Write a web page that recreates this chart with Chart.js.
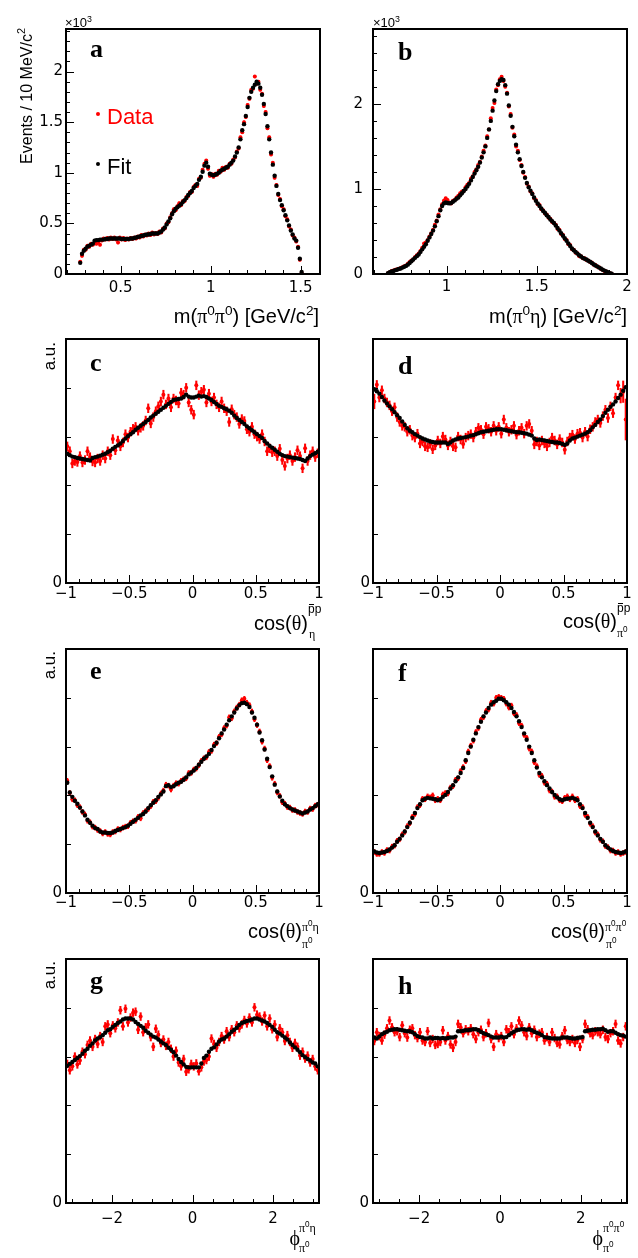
<!DOCTYPE html>
<html><head><meta charset="utf-8">
<script src="https://cdn.jsdelivr.net/npm/chart.js@4.4.1/dist/chart.umd.min.js"></script>
<style>
html,body{margin:0;padding:0;background:#fff}
body{position:relative;width:638px;height:1258px;overflow:hidden;font-family:"Liberation Sans",Arial,sans-serif;color:#000}
canvas{position:absolute}
.t{position:absolute;white-space:nowrap;line-height:1}
.sp{font-size:0.68em;position:relative;top:-0.6em}
.gk{font-family:"Liberation Serif","DejaVu Serif","Times New Roman",serif}
.ov{position:relative}
.ov::before{content:"";position:absolute;left:0.08em;right:0.08em;top:0.18em;border-top:1px solid #000}
.lt{position:absolute;white-space:nowrap;line-height:1;font-family:"Liberation Serif",serif;font-weight:bold}
.rot{position:absolute;white-space:nowrap;line-height:1;transform-origin:0 0;transform:rotate(-90deg);text-align:right}
.dot{position:absolute;border-radius:50%}
</style></head><body>
<script>
// ---------------- data ----------------
// bins: [first bin centre, bin width]
const binA = [0.275, 0.01];
const binB = [0.675, 0.01];
const binCos = [-0.99, 0.02];
const binPhi = [-Math.PI + Math.PI / 100, Math.PI / 50];

// panel a : m(pi0 pi0), units of 10^3 events
const fitA = [0.11,0.20,0.23,0.25,0.27,0.28,0.29,0.30,0.33,0.335,
 0.335,0.34,0.34,0.34,0.345,0.345,0.35,0.35,0.35,0.35,
 0.35,0.35,0.35,0.345,0.345,0.345,0.345,0.345,0.35,0.35,
 0.355,0.36,0.365,0.37,0.375,0.38,0.385,0.39,0.39,0.395,
 0.40,0.40,0.40,0.40,0.41,0.42,0.44,0.46,0.49,0.52,
 0.55,0.59,0.62,0.645,0.66,0.675,0.69,0.71,0.73,0.75,
 0.78,0.80,0.82,0.85,0.87,0.89,0.93,0.96,1.01,1.07,
 1.10,1.06,0.99,0.98,0.975,0.98,0.99,1.00,1.02,1.03,
 1.04,1.05,1.06,1.08,1.10,1.12,1.16,1.20,1.25,1.33,
 1.42,1.48,1.56,1.65,1.74,1.80,1.84,1.87,1.90,1.88,
 1.84,1.77,1.68,1.58,1.46,1.33,1.20,1.08,0.97,0.87,
 0.79,0.73,0.68,0.63,0.58,0.53,0.48,0.43,0.39,0.35,
 0.33,0.26,0.15,0.02];
const dataA = [0.12,0.18,0.24,0.24,0.28,0.27,0.30,0.29,0.31,0.30,
 0.31,0.29,0.33,0.35,0.34,0.355,0.34,0.36,0.345,0.36,
 0.34,0.31,0.36,0.34,0.355,0.335,0.35,0.34,0.355,0.345,
 0.36,0.35,0.37,0.36,0.385,0.37,0.39,0.38,0.40,0.385,
 0.41,0.39,0.405,0.395,0.42,0.41,0.45,0.45,0.50,0.51,
 0.56,0.60,0.64,0.63,0.67,0.70,0.68,0.72,0.72,0.76,
 0.77,0.81,0.81,0.86,0.88,0.87,0.94,0.95,1.03,1.09,
 1.12,1.04,0.97,0.985,0.96,0.99,0.98,1.02,1.01,1.05,
 1.03,1.06,1.05,1.09,1.09,1.13,1.15,1.21,1.24,1.35,
 1.40,1.50,1.55,1.67,1.73,1.82,1.83,1.95,1.88,1.90,
 1.82,1.78,1.66,1.60,1.44,1.35,1.18,1.10,0.95,0.88,
 0.78,0.74,0.67,0.64,0.57,0.54,0.47,0.44,0.38,0.36,
 0.32,0.27,0.14,0.01];

// panel b : m(pi0 eta)
const fitB = [0.01,0.02,0.03,0.035,0.045,0.05,0.06,0.065,0.075,0.085,
 0.095,0.11,0.13,0.15,0.17,0.19,0.21,0.23,0.26,0.29,
 0.32,0.35,0.39,0.43,0.47,0.51,0.56,0.62,0.68,0.75,
 0.80,0.83,0.84,0.835,0.83,0.835,0.85,0.865,0.885,0.90,
 0.925,0.95,0.975,1.00,1.03,1.06,1.10,1.14,1.18,1.22,
 1.26,1.31,1.37,1.43,1.50,1.60,1.70,1.80,1.92,2.04,
 2.15,2.23,2.27,2.29,2.28,2.22,2.12,1.98,1.86,1.73,
 1.62,1.52,1.43,1.35,1.27,1.20,1.13,1.07,1.02,0.98,
 0.94,0.90,0.86,0.83,0.80,0.77,0.74,0.72,0.69,0.67,
 0.64,0.62,0.60,0.57,0.54,0.51,0.48,0.45,0.42,0.39,
 0.36,0.33,0.30,0.28,0.26,0.24,0.22,0.205,0.19,0.18,
 0.17,0.155,0.145,0.13,0.115,0.10,0.09,0.075,0.065,0.05,
 0.04,0.03,0.02,0.01,0.003];
const dataB = [0.01,0.02,0.035,0.04,0.05,0.055,0.06,0.07,0.08,0.09,
 0.10,0.12,0.14,0.16,0.17,0.20,0.22,0.24,0.27,0.31,
 0.36,0.37,0.40,0.44,0.48,0.52,0.58,0.63,0.70,0.76,
 0.82,0.86,0.89,0.87,0.84,0.83,0.86,0.87,0.90,0.92,
 0.95,0.97,0.98,1.02,1.05,1.07,1.12,1.15,1.20,1.23,
 1.28,1.32,1.38,1.45,1.51,1.62,1.70,1.83,1.95,2.01,
 2.17,2.22,2.29,2.32,2.27,2.20,2.13,1.97,1.88,1.72,
 1.64,1.50,1.45,1.34,1.28,1.19,1.14,1.06,1.03,0.97,
 0.95,0.89,0.87,0.82,0.81,0.76,0.75,0.71,0.70,0.66,
 0.65,0.61,0.60,0.58,0.53,0.52,0.47,0.46,0.41,0.40,
 0.35,0.34,0.29,0.285,0.25,0.245,0.21,0.21,0.185,0.185,
 0.165,0.16,0.14,0.135,0.11,0.105,0.085,0.08,0.06,0.05,
 0.035,0.03,0.015,0.01,0.002];

// panel c : cos(theta)^{pbar p}_eta  (a.u.)
const fitC = [2.65,2.62,2.59,2.58,2.56,2.55,2.54,2.53,2.52,2.51,
 2.56,2.58,2.59,2.61,2.63,2.65,2.68,2.71,2.75,2.79,
 2.82,2.86,2.91,2.96,3.01,3.05,3.09,3.14,3.18,3.22,
 3.26,3.30,3.34,3.39,3.43,3.47,3.51,3.55,3.59,3.63,
 3.67,3.71,3.75,3.76,3.77,3.78,3.81,3.86,3.82,3.80,
 3.80,3.82,3.84,3.82,3.83,3.81,3.78,3.75,3.71,3.67,
 3.63,3.61,3.58,3.56,3.53,3.49,3.43,3.38,3.34,3.30,
 3.26,3.21,3.17,3.13,3.09,3.05,3.01,2.97,2.91,2.86,
 2.81,2.77,2.73,2.69,2.65,2.62,2.60,2.59,2.58,2.57,
 2.56,2.55,2.54,2.52,2.50,2.55,2.60,2.63,2.66,2.69];
const dataC = [2.80,2.70,2.45,2.50,2.48,2.60,2.47,2.52,2.70,2.58,
 2.49,2.47,2.55,2.50,2.62,2.55,2.70,2.62,2.95,2.72,
 2.92,2.80,2.88,3.05,2.98,3.10,3.16,3.20,3.12,3.18,
 3.22,3.33,3.58,3.27,3.40,3.52,3.62,3.72,3.86,3.66,
 3.78,3.60,3.78,3.74,3.68,3.90,3.86,4.00,3.70,3.55,
 3.45,4.05,3.85,3.92,3.96,3.70,3.88,3.72,3.80,3.66,
 3.60,3.72,3.58,3.52,3.30,3.56,3.45,3.40,3.26,3.36,
 3.32,3.15,3.10,3.20,3.05,3.00,2.95,3.05,2.90,2.70,
 2.76,2.68,2.70,2.60,2.75,2.52,2.40,2.55,2.62,2.50,
 2.58,2.72,2.60,2.35,2.76,2.50,2.62,2.70,2.58,2.66];

// panel d : cos(theta)^{pbar p}_pi0
const fitD = [3.97,3.93,3.88,3.81,3.74,3.68,3.62,3.56,3.50,3.44,
 3.38,3.31,3.24,3.17,3.12,3.09,3.05,3.02,2.99,2.96,
 2.94,2.92,2.90,2.89,2.88,2.88,2.88,2.88,2.88,2.85,
 2.88,2.92,2.94,2.96,2.97,2.98,2.99,3.00,3.02,3.03,
 3.05,3.07,3.09,3.10,3.11,3.12,3.13,3.14,3.15,3.15,
 3.15,3.14,3.13,3.12,3.11,3.10,3.09,3.09,3.08,3.07,
 3.06,3.04,3.02,2.96,2.93,2.94,2.93,2.92,2.91,2.90,
 2.89,2.88,2.88,2.87,2.85,2.83,2.86,2.92,2.96,2.98,
 3.00,3.02,3.04,3.06,3.09,3.13,3.19,3.24,3.30,3.35,
 3.42,3.49,3.55,3.61,3.66,3.72,3.79,3.86,3.94,4.01];
const dataD = [3.72,4.06,3.80,3.95,3.78,3.70,3.64,3.52,3.60,3.40,
 3.30,3.22,3.20,3.10,3.14,3.02,2.98,3.06,2.86,2.90,
 2.80,2.78,2.85,2.74,2.82,2.92,2.86,3.00,2.94,2.82,
 2.90,2.80,2.78,3.00,2.94,2.85,2.98,3.02,3.05,2.98,
 3.10,3.18,3.14,3.05,3.20,3.16,3.10,3.22,3.12,3.20,
 3.06,3.35,3.18,3.10,3.14,3.22,3.04,3.12,3.18,3.06,
 3.22,3.26,3.12,2.84,2.90,2.82,2.92,2.86,2.80,2.88,
 2.98,2.92,2.84,2.95,2.88,2.73,2.90,2.98,3.04,2.95,
 3.06,3.08,2.98,3.10,3.00,3.15,3.20,3.30,3.35,3.28,
 3.42,3.55,3.38,3.62,3.48,3.80,4.05,3.84,3.92,3.35];

// panel e : cos(theta)^{pi0 eta}_pi0
const fitE = [2.26,2.06,1.97,1.89,1.83,1.75,1.67,1.59,1.50,1.44,
 1.38,1.33,1.31,1.26,1.24,1.24,1.23,1.23,1.24,1.27,
 1.29,1.31,1.33,1.35,1.38,1.42,1.46,1.50,1.54,1.59,
 1.62,1.67,1.74,1.80,1.85,1.90,1.97,2.02,2.08,2.19,
 2.21,2.17,2.19,2.23,2.26,2.28,2.32,2.37,2.43,2.47,
 2.51,2.56,2.63,2.69,2.75,2.80,2.85,2.93,3.01,3.08,
 3.17,3.27,3.35,3.45,3.54,3.62,3.70,3.78,3.85,3.89,
 3.90,3.87,3.81,3.70,3.59,3.45,3.29,3.13,2.94,2.75,
 2.58,2.39,2.22,2.08,1.98,1.89,1.82,1.78,1.74,1.71,
 1.69,1.67,1.65,1.63,1.65,1.67,1.71,1.74,1.78,1.82];
const dataE = [2.30,2.05,1.92,1.90,1.80,1.76,1.66,1.61,1.48,1.45,
 1.36,1.34,1.29,1.27,1.22,1.25,1.21,1.20,1.25,1.26,
 1.31,1.30,1.34,1.36,1.37,1.44,1.47,1.48,1.56,1.53,
 1.64,1.68,1.72,1.78,1.87,1.88,1.95,2.04,2.10,2.22,
 2.20,2.12,2.20,2.25,2.24,2.30,2.33,2.35,2.46,2.46,
 2.53,2.55,2.62,2.71,2.76,2.78,2.89,2.91,3.04,3.07,
 3.20,3.25,3.38,3.43,3.60,3.58,3.72,3.80,3.86,3.95,
 3.98,3.90,3.85,3.72,3.56,3.44,3.31,3.10,2.96,2.72,
 2.60,2.36,2.24,2.06,1.99,1.86,1.83,1.76,1.75,1.70,
 1.70,1.66,1.64,1.62,1.67,1.66,1.73,1.72,1.79,1.81];

// panel f : cos(theta)^{pi0 pi0}_pi0
const fitF = [0.85,0.83,0.82,0.83,0.84,0.86,0.89,0.93,0.98,1.05,
 1.11,1.18,1.26,1.35,1.44,1.54,1.64,1.74,1.82,1.90,
 1.93,1.95,1.94,1.93,1.92,1.90,1.92,1.97,2.01,2.07,
 2.14,2.21,2.29,2.37,2.46,2.56,2.72,2.87,3.00,3.14,
 3.27,3.40,3.51,3.62,3.70,3.79,3.86,3.91,3.94,3.98,
 3.98,3.95,3.91,3.86,3.79,3.71,3.62,3.52,3.40,3.27,
 3.14,3.00,2.87,2.72,2.57,2.46,2.37,2.29,2.21,2.14,
 2.07,2.01,1.96,1.92,1.90,1.92,1.93,1.94,1.95,1.93,
 1.90,1.82,1.74,1.64,1.54,1.44,1.35,1.26,1.18,1.11,
 1.05,0.98,0.93,0.89,0.86,0.84,0.83,0.82,0.83,0.85];
const dataF = [0.84,0.80,0.80,0.84,0.82,0.88,0.87,0.95,0.97,1.07,
 1.10,1.20,1.25,1.37,1.43,1.56,1.62,1.76,1.80,1.93,
 1.92,1.98,1.96,2.00,1.90,1.93,1.90,2.02,2.05,2.04,
 2.16,2.19,2.32,2.35,2.50,2.58,2.70,2.90,3.02,3.12,
 3.30,3.38,3.55,3.60,3.73,3.76,3.90,3.88,4.00,4.02,
 4.00,3.98,3.88,3.80,3.84,3.68,3.65,3.48,3.43,3.24,
 3.18,2.96,2.90,2.68,2.60,2.42,2.40,2.26,2.24,2.10,
 2.08,1.97,1.98,1.90,1.88,1.95,1.98,1.92,1.98,1.90,
 1.93,1.78,1.76,1.60,1.56,1.42,1.37,1.24,1.20,1.09,
 1.06,0.96,0.94,0.87,0.87,0.82,0.84,0.80,0.82,0.84];

// panel g : phi^{pi0 eta}_pi0
const fitG = [2.81,2.85,2.89,2.93,2.97,3.01,3.06,3.12,3.16,3.22,
 3.27,3.33,3.37,3.40,3.44,3.49,3.54,3.56,3.61,3.65,
 3.69,3.72,3.76,3.78,3.78,3.78,3.76,3.71,3.67,3.63,
 3.59,3.53,3.49,3.45,3.41,3.39,3.35,3.31,3.27,3.24,
 3.18,3.14,3.09,3.02,2.95,2.89,2.84,2.79,2.78,2.78,
 2.78,2.78,2.78,2.86,2.97,3.02,3.10,3.16,3.19,3.25,
 3.31,3.35,3.37,3.41,3.46,3.51,3.55,3.59,3.65,3.69,
 3.71,3.73,3.74,3.76,3.78,3.78,3.76,3.74,3.72,3.69,
 3.65,3.61,3.55,3.50,3.47,3.43,3.39,3.35,3.29,3.24,
 3.19,3.14,3.09,3.03,2.99,2.95,2.92,2.88,2.86,2.80];
const dataG = [2.85,2.72,2.80,3.00,2.84,2.92,3.10,3.05,3.24,3.33,
 3.20,3.36,3.26,3.42,3.30,3.62,3.66,3.48,3.64,3.58,
 3.70,3.95,3.62,3.98,3.70,3.80,3.90,3.92,3.55,3.82,
 3.50,3.60,3.66,3.40,3.20,3.57,3.45,3.28,3.35,3.22,
 3.30,3.16,3.00,3.12,2.88,2.80,2.95,2.69,2.74,2.85,
 2.80,2.86,2.70,2.78,2.90,2.93,3.00,3.37,3.26,3.18,
 3.30,3.42,3.35,3.52,3.40,3.56,3.50,3.64,3.58,3.66,
 3.75,3.68,3.80,3.70,4.01,3.86,3.82,3.72,3.84,3.62,
 3.78,3.56,3.66,3.40,3.58,3.50,3.32,3.44,3.30,3.18,
 3.28,3.20,3.02,3.10,2.96,3.02,2.88,2.95,2.80,2.72];

// panel h : phi^{pi0 pi0}_pi0
const fitH = [3.39,3.37,3.41,3.46,3.49,3.51,3.54,3.55,3.56,3.56,
 3.55,3.54,3.53,3.52,3.52,3.50,3.46,3.42,3.40,3.39,
 3.37,3.37,3.39,3.37,3.38,3.38,3.37,3.38,3.37,3.38,
 3.39,3.39,3.41,3.52,3.52,3.53,3.54,3.54,3.55,3.56,
 3.56,3.54,3.51,3.48,3.46,3.44,3.41,3.39,3.39,3.39,
 3.41,3.39,3.40,3.44,3.48,3.51,3.54,3.55,3.56,3.56,
 3.55,3.56,3.54,3.51,3.49,3.47,3.44,3.40,3.39,3.38,
 3.37,3.37,3.37,3.37,3.39,3.39,3.39,3.38,3.37,3.37,
 3.38,3.39,3.40,3.52,3.53,3.54,3.55,3.55,3.56,3.56,
 3.57,3.54,3.51,3.52,3.52,3.49,3.46,3.44,3.43,3.41];
const dataH = [3.32,3.50,3.42,3.33,3.45,3.58,3.74,3.60,3.50,3.52,
 3.40,3.64,3.48,3.39,3.55,3.58,3.44,3.38,3.50,3.33,
 3.30,3.52,3.28,3.36,3.24,3.26,3.30,3.54,3.33,3.42,
 3.25,3.18,3.30,3.67,3.60,3.48,3.56,3.52,3.58,3.46,
 3.36,3.50,3.55,3.40,3.48,3.69,3.36,3.20,3.46,3.38,
 3.42,3.30,3.56,3.50,3.62,3.46,3.58,3.74,3.64,3.50,
 3.42,3.60,3.48,3.55,3.40,3.47,3.50,3.33,3.40,3.30,
 3.50,3.38,3.28,3.25,3.42,3.54,3.34,3.30,3.36,3.28,
 3.34,3.20,3.36,3.67,3.56,3.48,3.44,3.52,3.50,3.46,
 3.55,3.40,3.36,3.48,3.52,3.67,3.33,3.27,3.40,3.62];

// statistical error half-widths (same units as the values)
const errA = 0.012, errB = 0.012, errC = 0.09, errD = 0.09, errE = 0.05, errF = 0.05, errG = 0.08, errH = 0.08;
const errDEdges = {0: 0.15, 97: 0.15, 98: 0.22, 99: 0.42};

// axis ranges
const xRangeA = [0.196, 1.607], yRangeA = [0, 2.42];
const xRangeB = [0.592, 2.0],   yRangeB = [0, 2.88];
const xRangeCos = [-1, 1], xRangePhi = [-Math.PI, Math.PI], yRangeAU = [0, 5];

// tick values and labels
const xTicksA = [0.5, 1, 1.5],            xLabelsA = ['0.5', '1', '1.5'];
const yTicksA = [0, 0.5, 1, 1.5, 2],      yLabelsA = ['0', '0.5', '1', '1.5', '2'];
const xTicksB = [1, 1.5, 2],              xLabelsB = ['1', '1.5', '2'];
const yTicksB = [0, 1, 2],                yLabelsB = ['0', '1', '2'];
const xTicksCos = [-1, -0.5, 0, 0.5, 1],  xLabelsCos = ['\u22121', '\u22120.5', '0', '0.5', '1'];
const xTicksPhi = [-2, 0, 2],             xLabelsPhi = ['\u22122', '0', '2'];
const yTicksAU = [0, 1, 2, 3, 4],         yLabelsAU = ['0', '', '', '', ''];

// ---------------- layout (page pixels) ----------------
const panels = [
 {fit:fitA, data:dataA, bin:binA, err:errA, xr:xRangeA, yr:yRangeA, xt:xTicksA, xl:xLabelsA, yt:yTicksA, yl:yLabelsA,
  xMinor:0.1, yMinor:0.1, yLen:8, frame:[66,29,320,274], cv:[0,0,326,300], xPad:5, yPad:3},
 {fit:fitB, data:dataB, bin:binB, err:errB, xr:xRangeB, yr:yRangeB, xt:xTicksB, xl:xLabelsB, yt:yTicksB, yl:yLabelsB,
  xMinor:0.1, yMinor:0.2, yLen:8, frame:[373,29,627,274], cv:[319,0,319,300], xPad:4, yPad:10},
 {fit:fitC, data:dataC, bin:binCos, err:errC, xr:xRangeCos, yr:yRangeAU, xt:xTicksCos, xl:xLabelsCos, yt:yTicksAU, yl:yLabelsAU,
  xMinor:0.1, yMinor:null, yLen:5, frame:[66,339,319,583], cv:[0,300,326,310], xPad:2, yPad:4},
 {fit:fitD, data:dataD, bin:binCos, err:errD, errEdges:errDEdges, xr:xRangeCos, yr:yRangeAU, xt:xTicksCos, xl:xLabelsCos, yt:yTicksAU, yl:yLabelsAU,
  xMinor:0.1, yMinor:null, yLen:5, frame:[373,339,627,583], cv:[319,300,319,310], xPad:2, yPad:3},
 {fit:fitE, data:dataE, bin:binCos, err:errE, xr:xRangeCos, yr:yRangeAU, xt:xTicksCos, xl:xLabelsCos, yt:yTicksAU, yl:yLabelsAU,
  xMinor:0.1, yMinor:null, yLen:5, frame:[66,649,319,893], cv:[0,610,326,310], xPad:1, yPad:4},
 {fit:fitF, data:dataF, bin:binCos, err:errF, xr:xRangeCos, yr:yRangeAU, xt:xTicksCos, xl:xLabelsCos, yt:yTicksAU, yl:yLabelsAU,
  xMinor:0.1, yMinor:null, yLen:5, frame:[373,649,627,893], cv:[319,610,319,310], xPad:1, yPad:4},
 {fit:fitG, data:dataG, bin:binPhi, err:errG, xr:xRangePhi, yr:yRangeAU, xt:xTicksPhi, xl:xLabelsPhi, yt:yTicksAU, yl:yLabelsAU,
  xMinor:0.5, yMinor:null, yLen:5, frame:[66,959,319,1203], cv:[0,920,326,338], xPad:7, yPad:4},
 {fit:fitH, data:dataH, bin:binPhi, err:errH, xr:xRangePhi, yr:yRangeAU, xt:xTicksPhi, xl:xLabelsPhi, yt:yTicksAU, yl:yLabelsAU,
  xMinor:0.5, yMinor:null, yLen:5, frame:[373,959,627,1203], cv:[319,920,319,338], xPad:7, yPad:4}
];

function makeFrame(p) {
  return {
    id: 'frameTicks',
    afterDraw(chart) {
      const {ctx, chartArea: ca, scales: {x, y}} = chart;
      ctx.save();
      ctx.strokeStyle = '#000';
      ctx.lineWidth = 1;
      ctx.beginPath();
      const xt = (v, len) => { const px = Math.round(x.getPixelForValue(v)) + 0.5; ctx.moveTo(px, ca.bottom); ctx.lineTo(px, ca.bottom - len); };
      const yt = (v, len) => { const py = Math.round(y.getPixelForValue(v)) + 0.5; ctx.moveTo(ca.left, py); ctx.lineTo(ca.left + len, py); };
      p.xt.forEach(v => xt(v, 8));
      for (let k = Math.ceil(x.min / p.xMinor - 1e-6); k * p.xMinor <= x.max + 1e-6; k++) xt(k * p.xMinor, 4);
      p.yt.forEach(v => yt(v, p.yLen));
      if (p.yMinor) for (let k = Math.ceil(y.min / p.yMinor - 1e-6); k * p.yMinor <= y.max + 1e-6; k++) yt(k * p.yMinor, 4);
      ctx.stroke();
      ctx.lineWidth = 2;
      ctx.strokeRect(ca.left, ca.top, ca.right - ca.left, ca.bottom - ca.top);
      ctx.restore();
    }
  };
}

const tickFont = {family: '"DejaVu Sans", "Liberation Sans", sans-serif', size: 15};

panels.forEach(p => {
  const c = document.createElement('canvas');
  const [cl, ct, cw, ch] = p.cv;
  const [fl, ft, fr, fb] = p.frame;
  c.width = cw; c.height = ch;
  c.style.left = cl + 'px'; c.style.top = ct + 'px';
  document.body.appendChild(c);
  const xs = p.fit.map((_, i) => p.bin[0] + i * p.bin[1]);
  const errAt = i => (p.errEdges && p.errEdges[i] != null) ? p.errEdges[i] : p.err;
  new Chart(c, {
    type: 'scatter',
    data: {datasets: [
      {type: 'scatter', data: xs.map((x, i) => ({x, y: p.fit[i]})), pointRadius: 2.2, pointBackgroundColor: '#000', pointBorderWidth: 0, order: 0},
      {type: 'scatter', data: xs.map((x, i) => ({x, y: p.data[i]})), pointRadius: 2.0, pointBackgroundColor: '#ff0000', pointBorderWidth: 0, order: 1},
      {type: 'bar', data: xs.map((x, i) => ({x, y: [p.data[i] - errAt(i), p.data[i] + errAt(i)]})), backgroundColor: '#ff0000', borderWidth: 0, barThickness: 1.4, grouped: false, order: 2}
    ]},
    options: {
      responsive: false, animation: false, devicePixelRatio: 1, events: [],
      layout: {padding: {left: 0, top: ft - ct, right: cl + cw - fr, bottom: 0}},
      plugins: {legend: {display: false}, tooltip: {enabled: false}},
      scales: {
        x: {type: 'linear', position: 'bottom', min: p.xr[0], max: p.xr[1], offset: false,
            grid: {display: false, drawTicks: false, offset: false}, border: {display: false},
            ticks: {autoSkip: false, maxRotation: 0, minRotation: 0, padding: p.xPad, color: '#000', font: tickFont,
                    callback: (v, i) => p.xl[i]},
            afterBuildTicks: s => { s.ticks = p.xt.map(v => ({value: v})); },
            afterFit: s => { s.height = ct + ch - fb; }},
        y: {type: 'linear', position: 'left', min: p.yr[0], max: p.yr[1],
            grid: {display: false, drawTicks: false}, border: {display: false},
            ticks: {autoSkip: false, padding: p.yPad, color: '#000', font: tickFont, callback: (v, i) => p.yl[i]},
            afterBuildTicks: s => { s.ticks = p.yt.map(v => ({value: v})); },
            afterFit: s => { s.width = fl - cl; }}
      }
    },
    plugins: [makeFrame(p)]
  });
});

// ---------------- text ----------------
function txt(html, o) {
  const d = document.createElement('div');
  d.className = o.cls || 't';
  d.innerHTML = html;
  d.style.fontSize = o.size + 'px';
  d.style.top = (o.base - 0.847 * o.size) + 'px';
  if (o.right != null) d.style.right = (638 - o.right) + 'px'; else d.style.left = o.left + 'px';
  if (o.color) d.style.color = o.color;
  document.body.appendChild(d);
}
function rot(html, o) {
  const d = document.createElement('div');
  d.className = 'rot';
  d.innerHTML = html;
  d.style.fontSize = o.size + 'px';
  d.style.width = '200px';
  d.style.left = (o.baseX - 0.847 * o.size) + 'px';
  d.style.top = (o.endY + 200) + 'px';
  document.body.appendChild(d);
}
const pi = '<span class="gk">\u03c0</span>';
const eta = '<span class="gk">\u03b7</span>';
const sup = s => '<span class="sp">' + s + '</span>';

// y titles
rot('Events / 10 MeV/c' + sup('2'), {baseX: 33, endY: 28, size: 16});
rot('a.u.', {baseX: 55, endY: 342, size: 17});
rot('a.u.', {baseX: 55, endY: 651, size: 17});
rot('a.u.', {baseX: 55, endY: 961, size: 17});

// x10^3
txt('\u00d710' + sup('3'), {left: 65, base: 27, size: 13});
txt('\u00d710' + sup('3'), {left: 373, base: 27, size: 13});

// panel letters
[['a', 90, 58], ['b', 398, 61], ['c', 90, 372], ['d', 398, 375], ['e', 90, 680], ['f', 398, 682], ['g', 90, 990], ['h', 398, 995]]
  .forEach(([s, l, b]) => txt(s, {cls: 'lt', left: l, base: b, size: 26}));

// legend
[['#ff0000', 97.7, 113.7, 'Data', 125], ['#000', 98, 164.3, 'Fit', 175]].forEach(([col, cx, cy, s, b]) => {
  const d = document.createElement('div');
  d.className = 'dot';
  d.style.cssText += `left:${cx - 2}px;top:${cy - 2}px;width:4px;height:4px;background:${col}`;
  document.body.appendChild(d);
  txt(s, {left: 107, base: b, size: 22, color: col});
});

// x titles
txt('m(' + pi + sup('0') + pi + sup('0') + ') [GeV/c' + sup('2') + ']', {right: 319, base: 323, size: 20});
txt('m(' + pi + sup('0') + eta + ') [GeV/c' + sup('2') + ']', {right: 627, base: 323, size: 20});
const cosT = 'cos(<span class="gk">\u03b8</span>)';
const pbarp = '<span class="ov">p</span>p';
const phi = '<span class="gk">\u03d5</span>';
// c
txt(cosT, {right: 308, base: 630, size: 20});
txt(pbarp, {left: 308, base: 613, size: 12});
txt(eta, {left: 309, base: 638, size: 12});
// d
txt(cosT, {right: 617, base: 628, size: 20});
txt(pbarp, {left: 617, base: 612, size: 12});
txt(pi + sup('0'), {left: 617, base: 637, size: 12});
// e
txt(cosT, {right: 302, base: 938, size: 20});
txt(pi + sup('0') + eta, {left: 302, base: 931, size: 12});
txt(pi + sup('0'), {left: 302, base: 948, size: 12});
// f
txt(cosT, {right: 605, base: 938, size: 20});
txt(pi + sup('0') + pi + sup('0'), {left: 605, base: 931, size: 12});
txt(pi + sup('0'), {left: 606, base: 948, size: 12});
// g
txt(phi, {right: 300, base: 1245, size: 20});
txt(pi + sup('0') + eta, {left: 299, base: 1232, size: 12});
txt(pi + sup('0'), {left: 299, base: 1252, size: 12});
// h
txt(phi, {right: 603, base: 1245, size: 20});
txt(pi + sup('0') + pi + sup('0'), {left: 603, base: 1232, size: 12});
txt(pi + sup('0'), {left: 603, base: 1252, size: 12});
</script>
</body></html>
